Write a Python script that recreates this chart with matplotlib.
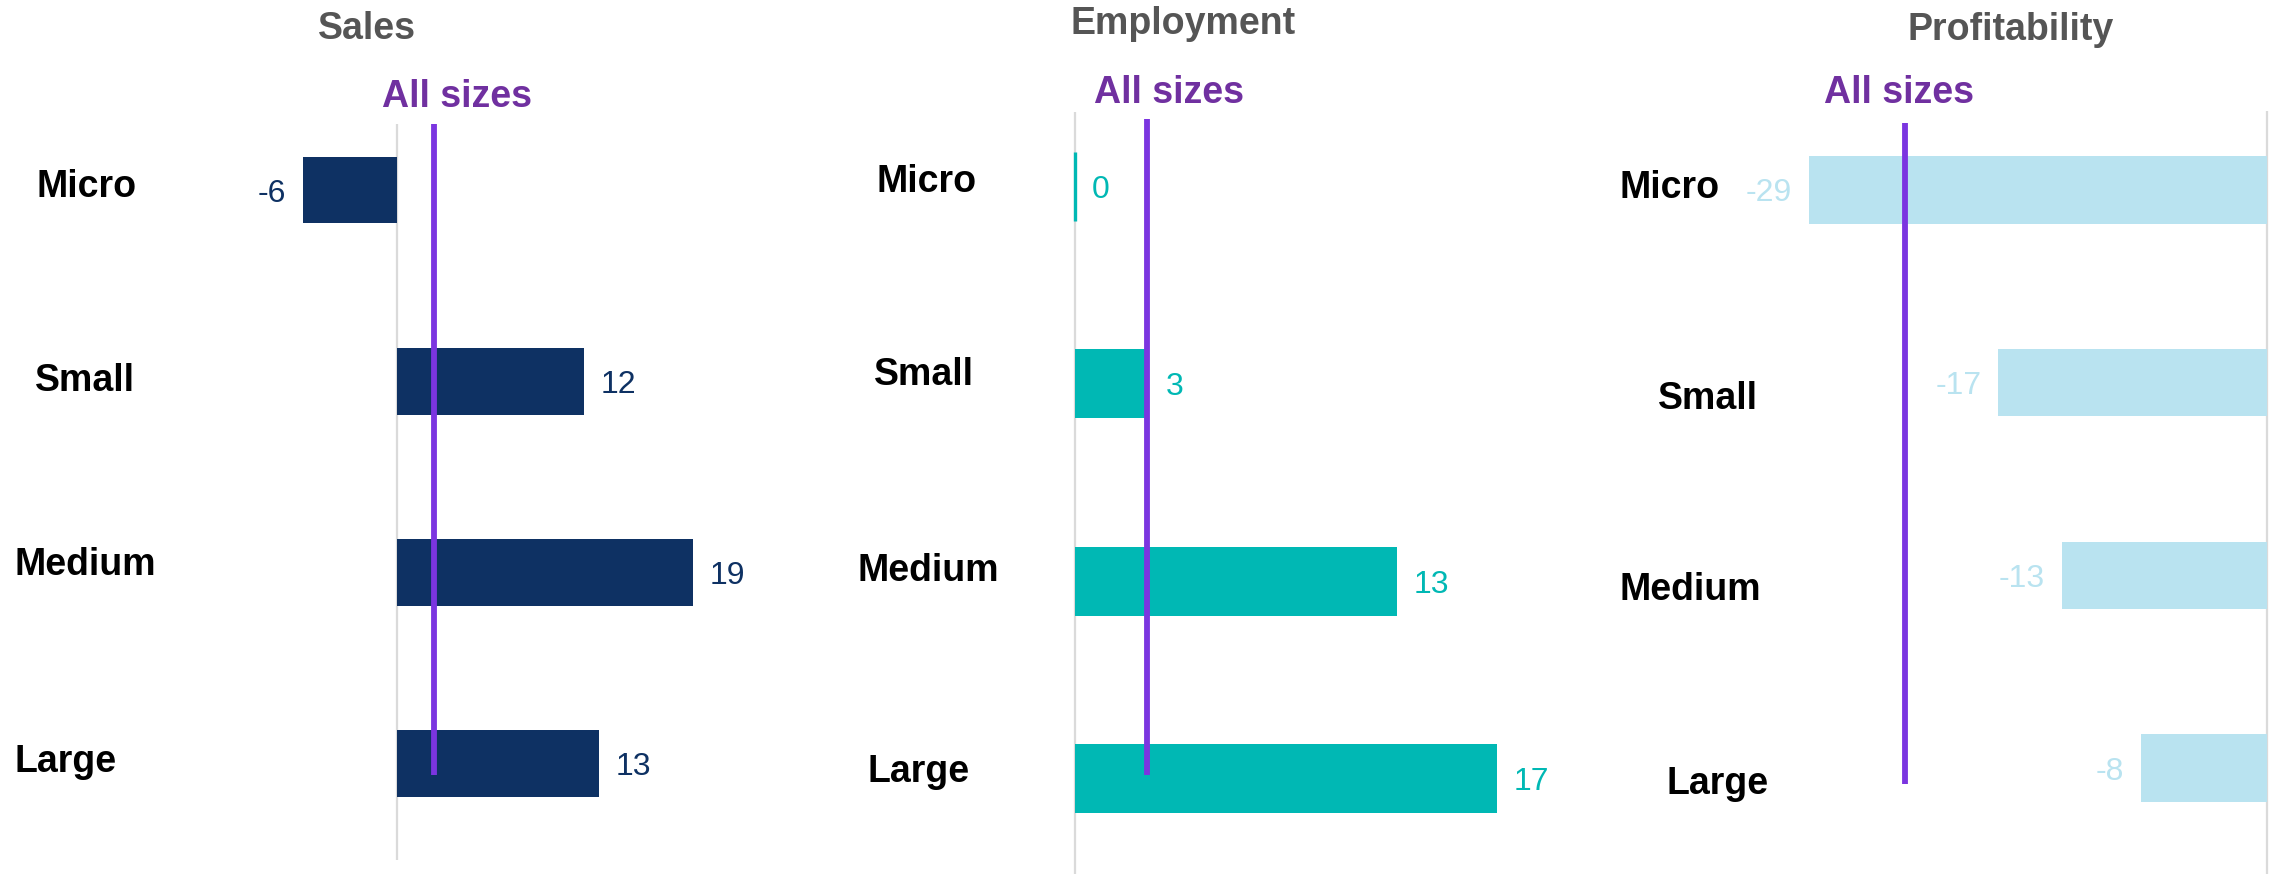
import matplotlib
matplotlib.use("Agg")
import matplotlib.pyplot as plt

# ---- data -------------------------------------------------------------
sizes = ["Micro", "Small", "Medium", "Large"]
panel_titles = ["Sales", "Employment", "Profitability"]
sales = [-6, 12, 19, 13]
employment = [0, 3, 13, 17]
profitability = [-29, -17, -13, -8]
all_sizes = [2.4, 2.9, -22.9]          # "All sizes" reference value per panel

bar_colors = ["#0E3163", "#00B8B4", "#B9E3F0"]
line_color = "#7B35E0"
all_sizes_text_color = "#7030A0"
title_color = "#555555"
zero_color = "#DADADA"

FONT = "Liberation Sans"

# ---- layout (pixels on a 2285 x 874 canvas) ---------------------------
W, H, DPI = 2285, 874, 100

panels = [
    # zero x, px/unit, first row y, row step, axes top, bottom, left, right
    dict(zero=396.5, ppu=15.6, row0=190.0, step=191.3, top=124, bottom=860,
         left=250, right=800, line=(124, 775),
         title=(367, 39), tag=(457, 107),
         labels=[(87, 197), (85, 391), (85, 575), (66, 772)]),
    dict(zero=1075.0, ppu=24.8, row0=186.5, step=197.3, top=112, bottom=874,
         left=1000, right=1580, line=(119, 775),
         title=(1183, 34), tag=(1169, 103),
         labels=[(927, 192), (924, 385), (928, 581), (919, 782)]),
    dict(zero=2267.0, ppu=15.8, row0=190.0, step=192.7, top=111, bottom=874,
         left=1760, right=2285, line=(123, 784),
         title=(2011, 40), tag=(1899, 103),
         labels=[(1670, 198), (1708, 409), (1690, 600), (1718, 794)]),
]

series = [sales, employment, profitability]

fig = plt.figure(figsize=(W / DPI, H / DPI), dpi=DPI)
fig.patch.set_facecolor("white")


def fx(px):
    return px / W


def fy(py):
    return 1 - py / H


for k, (p, values) in enumerate(zip(panels, series)):
    ax = fig.add_axes([fx(p["left"]), fy(p["bottom"]),
                       fx(p["right"] - p["left"]), (p["bottom"] - p["top"]) / H])
    ax.set_xlim((p["left"] - p["zero"]) / p["ppu"], (p["right"] - p["zero"]) / p["ppu"])
    ax.set_ylim((p["bottom"] - p["row0"]) / p["step"], (p["top"] - p["row0"]) / p["step"])
    ax.axis("off")

    color = bar_colors[k]
    ypos = list(range(len(sizes)))

    # zero axis line
    ax.axvline(0, color=zero_color, lw=1.6, zorder=1)

    # bars (a zero bar still shows as a thin sliver)
    ax.barh(ypos, values, height=0.35, color=color,
            edgecolor=[color if v == 0 else "none" for v in values],
            linewidth=[2.4 if v == 0 else 0 for v in values], zorder=2)

    # value labels
    for y, v in zip(ypos, values):
        ax.annotate(f"{v}", xy=(v, y), xytext=(12 if v >= 0 else -12, 0),
                    textcoords="offset points",
                    ha="left" if v >= 0 else "right", va="center_baseline",
                    fontsize=23, color=color, family=FONT)

    # "All sizes" reference line
    span = p["bottom"] - p["top"]
    ymin = (p["bottom"] - p["line"][1]) / span
    ymax = (p["bottom"] - p["line"][0]) / span
    ax.axvline(all_sizes[k], ymin=ymin, ymax=ymax, color=line_color,
               lw=4.2, solid_capstyle="butt", zorder=3)

    # texts
    fig.text(fx(p["title"][0]), fy(p["title"][1]), panel_titles[k],
             ha="center", va="baseline", fontsize=27, fontweight="bold",
             color=title_color, family=FONT)
    fig.text(fx(p["tag"][0]), fy(p["tag"][1]), "All sizes",
             ha="center", va="baseline", fontsize=27, fontweight="bold",
             color=all_sizes_text_color, family=FONT)
    for name, (lx, ly) in zip(sizes, p["labels"]):
        fig.text(fx(lx), fy(ly), name, ha="center", va="baseline",
                 fontsize=27, fontweight="bold", color="black", family=FONT)

fig.savefig("out.png", dpi=DPI, facecolor="white")
